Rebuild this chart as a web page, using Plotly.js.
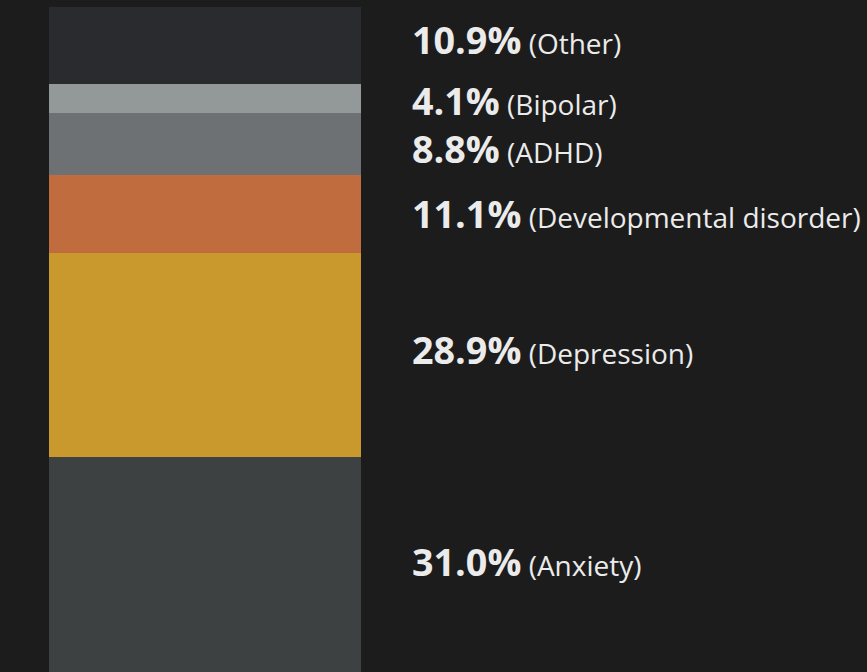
<!DOCTYPE html>
<html>
<head>
<meta charset="utf-8">
<script src="https://cdn.plot.ly/plotly-3.0.1.min.js"></script>
<style>html,body{margin:0;padding:0;background:#1c1c1c;}</style>
</head>
<body>
<div id="chart" style="width:867px;height:672px;"></div>
<script>
// Data (bottom to top of the stacked bar)
const categories = ["Anxiety", "Depression", "Developmental disorder", "ADHD", "Bipolar", "Other"];
const shares = [31.0, 28.9, 11.1, 8.8, 4.1, 10.9];
const colors = ["#3d4142", "#c9992e", "#c06c3e", "#6d7173", "#939899", "#2a2b2e"];
// label nudges (px, positive = down) used to keep neighbouring labels apart
const labelNudge = [0, 0, 4.5, 10.5, 7.6, 0];

const W = 867, H = 672;
const total = shares.reduce((a, b) => a + b, 0);

const traces = categories.map((c, i) => ({
  type: "bar",
  x: [0],
  y: [shares[i]],
  width: [1],
  name: c,
  marker: { color: colors[i], line: { width: 0 } },
  hoverinfo: "skip",
  showlegend: false
}));

// plot spans full width; bar occupies x from 49 to 361 px
const pxPerUnit = 312;
const xMin = -0.5 - 49 / pxPerUnit;
const xMax = xMin + W / pxPerUnit;
// y: top of stack at 7 px, zero sits a little below the bottom edge
const topPad = 7;
const zeroPx = 676;
const pxPerPct = (zeroPx - topPad) / total;
const yMin = (zeroPx - H) / pxPerPct;

const annotations = [];
let cum = 0;
shares.forEach((v, i) => {
  const mid = cum + v / 2;
  cum += v;
  annotations.push({
    xref: "paper", yref: "y",
    x: 411 / W, y: mid,
    xanchor: "left", yanchor: "middle",
    yshift: -labelNudge[i] + 5.5,
    showarrow: false,
    borderpad: 0,
    align: "left",
    text: '<span style="font-size:37.7px"><b>' + v.toFixed(1) + '%</b></span>' +
          '<span style="font-size:28px"> (' + categories[i] + ')</span>',
    font: { family: "Open Sans", color: "#ebebeb", size: 28 }
  });
});

const layout = {
  width: W, height: H,
  margin: { l: 0, r: 0, t: topPad, b: 0, pad: 0 },
  paper_bgcolor: "#1c1c1c",
  plot_bgcolor: "#1c1c1c",
  barmode: "stack",
  bargap: 0,
  showlegend: false,
  xaxis: { range: [xMin, xMax], visible: false, fixedrange: true },
  yaxis: { range: [yMin, total], visible: false, fixedrange: true },
  annotations: annotations,
  font: { family: "Open Sans", color: "#ebebeb" }
};

Plotly.newPlot("chart", traces, layout, { displayModeBar: false, staticPlot: true });
</script>
</body>
</html>
